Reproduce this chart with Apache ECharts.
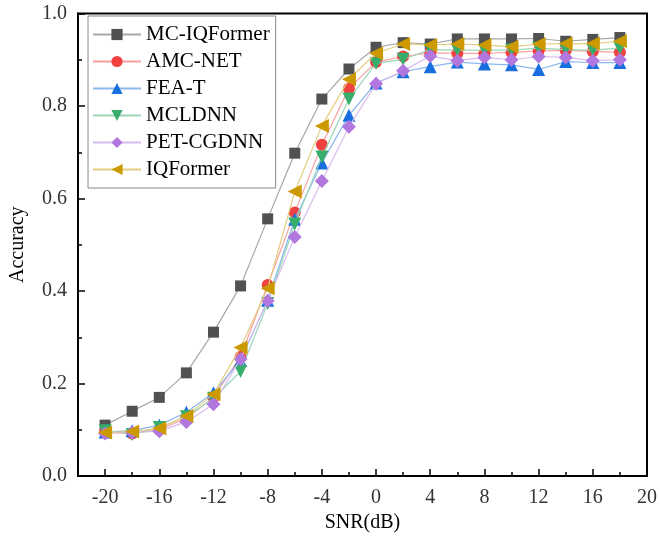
<!DOCTYPE html>
<html><head><meta charset="utf-8">
<script src="https://cdn.jsdelivr.net/npm/echarts@6/dist/echarts.min.js"></script>
<style>html,body{margin:0;padding:0;background:#fff}#c{width:660px;height:541px}</style>
</head><body><div id="c"></div>
<script>
const snr = [-20,-18,-16,-14,-12,-10,-8,-6,-4,-2,0,2,4,6,8,10,12,14,16,18];
const xMajorTicks = [-20,-16,-12,-8,-4,0,4,8,12,16,20];
const xMinorTicks = [-18,-14,-10,-6,-2,2,6,10,14,18];
const names = ['MC-IQFormer','AMC-NET','FEA-T','MCLDNN','PET-CGDNN','IQFormer'];
const mcIQFormer = [0.110,0.140,0.170,0.223,0.311,0.411,0.556,0.698,0.815,0.880,0.927,0.937,0.934,0.945,0.945,0.945,0.946,0.940,0.944,0.948];
const amcNet    = [0.095,0.092,0.100,0.125,0.170,0.258,0.413,0.570,0.716,0.838,0.895,0.907,0.915,0.914,0.914,0.916,0.919,0.920,0.918,0.916];
const feaT      = [0.095,0.098,0.110,0.138,0.180,0.250,0.380,0.555,0.677,0.780,0.850,0.874,0.885,0.895,0.891,0.889,0.879,0.896,0.894,0.894];
const mcldnn    = [0.098,0.090,0.105,0.128,0.168,0.226,0.373,0.545,0.690,0.815,0.892,0.901,0.922,0.921,0.921,0.921,0.925,0.922,0.921,0.925];
const petCgdnn  = [0.092,0.094,0.097,0.117,0.155,0.253,0.379,0.517,0.638,0.755,0.848,0.876,0.908,0.898,0.905,0.900,0.907,0.905,0.898,0.900];
const iqFormer  = [0.094,0.096,0.103,0.130,0.177,0.278,0.406,0.615,0.757,0.858,0.914,0.934,0.932,0.934,0.932,0.928,0.934,0.935,0.935,0.940];
const seriesData = [mcIQFormer, amcNet, feaT, mcldnn, petCgdnn, iqFormer];
const markerColors = ['#515151','#F14040','#1A6FDF','#37AD6B','#B177DE','#CC9900'];
const lineColors = ['#a8a8a8','#f8a0a0','#8cb7ef','#9bd6b5','#d8bbee','#e5cc80'];
const symbols = ['rect','circle','triangle','triangle','diamond','triangle'];
const symbolSizes = [11,12,13,13,14,14];
const symbolRotates = [0,0,0,180,0,90];

const chart = echarts.init(document.getElementById('c'), null, {renderer:'canvas'});
const serif = 'Liberation Serif';
const series = names.map((n,i)=>({
  name:n, type:'line', xAxisIndex:0,
  data: snr.map((x,j)=>[x, seriesData[i][j]]),
  symbol: symbols[i], symbolSize: symbolSizes[i], symbolRotate: symbolRotates[i],
  showAllSymbol:true,
  itemStyle:{color:markerColors[i]},
  lineStyle:{color:lineColors[i], width:1.2},
  z: 2+i, animation:false
}));
chart.setOption({
  animation:false,
  grid:{left:75, right:10, top:13.5, bottom:65, show:true, borderColor:'#000', borderWidth:2, backgroundColor:'transparent'},
  legend:{
    orient:'vertical', left:88, top:16, data:names,
    itemWidth:48, itemHeight:14, itemGap:6,
    padding:[8,6,8,4],
    borderColor:'#888', borderWidth:1, backgroundColor:'#fff',
    textStyle:{fontFamily:serif, fontSize:21, color:'#000', lineHeight:21}
  },
  xAxis:[{
    type:'value', min:-22, max:20,
    name:'SNR(dB)', nameLocation:'middle', nameGap:37,
    nameTextStyle:{fontFamily:serif, fontSize:20, color:'#000'},
    axisLine:{show:true, onZero:false, lineStyle:{color:'#000', width:2}},
    axisTick:{show:true, inside:true, length:7, lineStyle:{color:'#000', width:1.5}, customValues:xMajorTicks},
    axisLabel:{show:true, fontFamily:serif, fontSize:20, color:'#333', margin:12, customValues:xMajorTicks},
    splitLine:{show:false}
  },{
    type:'value', min:-22, max:20, position:'bottom',
    axisLine:{show:false, onZero:false},
    axisTick:{show:true, inside:true, length:4, lineStyle:{color:'#000', width:1.5}, customValues:xMinorTicks},
    axisLabel:{show:false, customValues:xMinorTicks},
    splitLine:{show:false}
  }],
  yAxis:{
    type:'value', min:0, max:1, interval:0.2,
    name:'Accuracy', nameLocation:'middle', nameGap:50,
    nameTextStyle:{fontFamily:serif, fontSize:20, color:'#000'},
    axisLine:{show:true, onZero:false, lineStyle:{color:'#000', width:2}},
    axisTick:{show:true, inside:true, length:7, lineStyle:{color:'#000', width:1.5}},
    minorTick:{show:true, splitNumber:2, length:4, lineStyle:{color:'#000', width:1.5}},
    axisLabel:{fontFamily:serif, fontSize:20, color:'#333', margin:11, formatter:v=>v.toFixed(1)},
    splitLine:{show:false}
  },
  series: series
});
</script></body></html>
